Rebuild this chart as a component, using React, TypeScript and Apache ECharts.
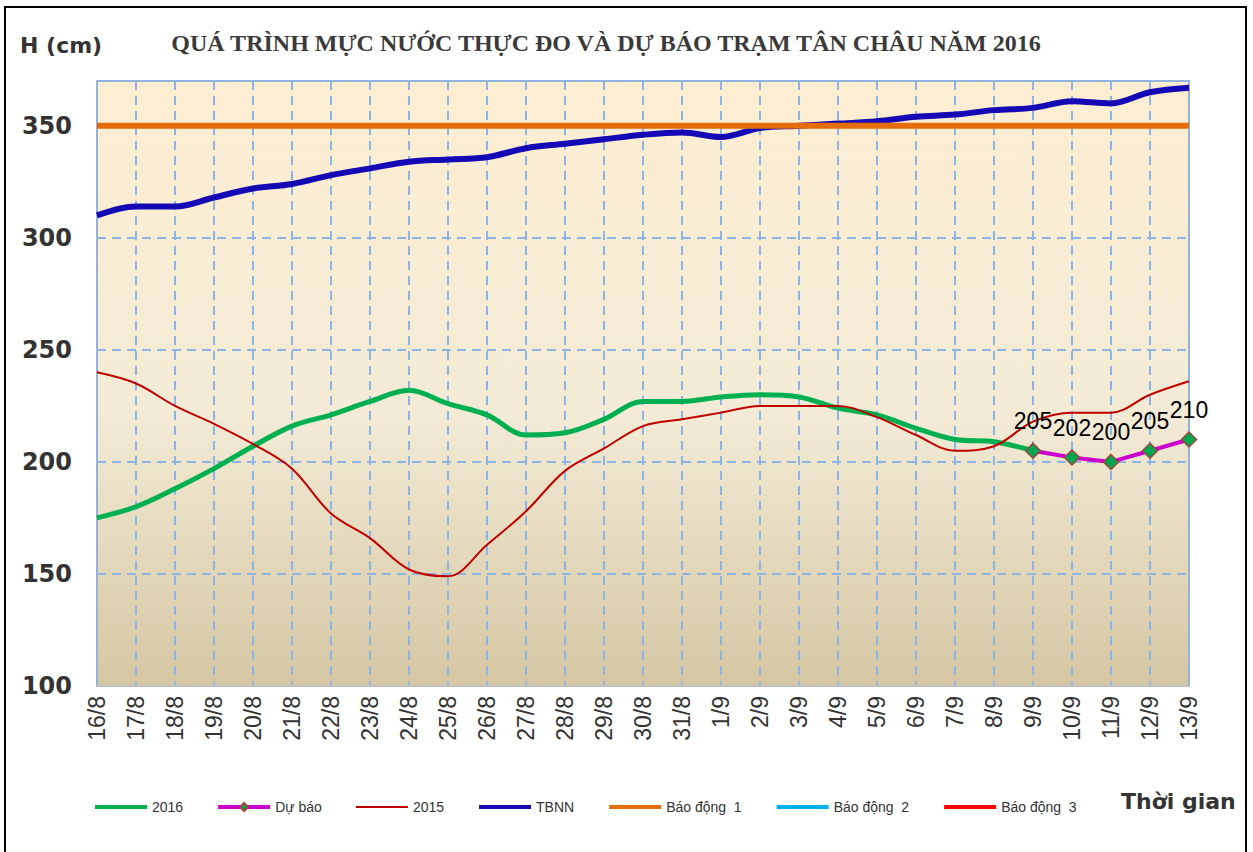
import React, { useEffect, useRef } from "react";
import * as echarts from "echarts";

const categories = [
  "16/8", "17/8", "18/8", "19/8", "20/8", "21/8", "22/8", "23/8", "24/8", "25/8",
  "26/8", "27/8", "28/8", "29/8", "30/8", "31/8", "1/9", "2/9", "3/9", "4/9",
  "5/9", "6/9", "7/9", "8/9", "9/9", "10/9", "11/9", "12/9", "13/9",
];

const values2016 = [
  175, 180, 188, 197, 207, 216, 221, 227, 232, 226,
  221, 212, 213, 219, 227, 227, 229, 230, 229, 224,
  221, 215, 210, 209, 205,
];

const forecast = [
  null, null, null, null, null, null, null, null, null, null,
  null, null, null, null, null, null, null, null, null, null,
  null, null, null, null, 205, 202, 200, 205, 210,
];

const values2015 = [
  240, 235, 225, 217, 208, 197, 177, 166, 152, 149,
  163, 178, 196, 206, 216, 219, 222, 225, 225, 225,
  220, 212, 205, 207, 218, 222, 222, 230, 236,
];

const tbnn = [
  310, 314, 314, 318, 322, 324, 328, 331, 334, 335,
  336, 340, 342, 344, 346, 347, 345, 349, 350, 351,
  352, 354, 355, 357, 358, 361, 360, 365, 367,
];

const alarm1 = categories.map(() => 350);
const alarm2: number[] = [];
const alarm3: number[] = [];

const yTicks = [100, 150, 200, 250, 300, 350];

export default function App() {
  const ref = useRef<HTMLDivElement>(null);
  useEffect(() => {
    if (!ref.current) return;
    const chart = echarts.init(ref.current, null, { renderer: "svg" });
    const gridLine = { color: "#8DB4E2", width: 2, type: [9, 6] as any };
    const lineOnly = (name: string, width: number) => ({
      name,
      itemStyle: { opacity: 0 },
      lineStyle: { width },
    });
    chart.setOption({
      animation: false,
      backgroundColor: "#ffffff",
      grid: {
        left: 97,
        top: 81,
        right: 64,
        bottom: 166,
        show: true,
        borderWidth: 0,
        backgroundColor: new echarts.graphic.LinearGradient(0, 0, 0, 1, [
          { offset: 0, color: "#FDEED2" },
          { offset: 0.55, color: "#F3EBD6" },
          { offset: 1, color: "#D5C7A3" },
        ]),
      },
      legend: {
        left: 88,
        top: 795,
        itemWidth: 52,
        itemHeight: 10,
        itemGap: 33,
        textStyle: { fontFamily: "Liberation Sans", fontSize: 14, color: "#333" },
        data: [
          lineOnly("2016", 4),
          { name: "Dự báo", lineStyle: { width: 4 } },
          lineOnly("2015", 2),
          lineOnly("TBNN", 4),
          lineOnly("Báo động  1", 4),
          lineOnly("Báo động  2", 4),
          lineOnly("Báo động  3", 4),
        ],
      },
      xAxis: {
        type: "category",
        data: categories,
        boundaryGap: false,
        axisTick: { show: false },
        axisLine: { show: true, lineStyle: { color: "#BFBFBF", width: 2 } },
        splitLine: { show: true, lineStyle: gridLine },
        axisLabel: {
          interval: 0,
          rotate: 90,
          margin: 10,
          fontFamily: "Liberation Sans",
          fontSize: 23,
          color: "#333",
        },
      },
      yAxis: {
        type: "value",
        min: 100,
        max: 370,
        interval: 50,
        axisTick: { show: false },
        axisLine: { show: true, lineStyle: { color: "#95B3D7", width: 2 } },
        splitLine: { show: true, lineStyle: gridLine },
        axisLabel: {
          margin: 25,
          fontFamily: "DejaVu Sans",
          fontWeight: "bold",
          fontSize: 24,
          color: "#333",
          formatter: (v: number) => (yTicks.includes(v) ? String(v) : ""),
        },
      },
      graphic: [
        {
          type: "rect",
          shape: { x: 97, y: 81, width: 1092, height: 605 },
          style: { fill: "none", stroke: "#95B3D7", lineWidth: 2 },
          z: 0,
          silent: true,
        },
        {
          type: "rect",
          shape: { x: 5, y: 7, width: 1241, height: 860 },
          style: { fill: "none", stroke: "#000", lineWidth: 2 },
          silent: true,
        },
        {
          type: "text",
          x: 606,
          y: 43,
          scaleX: 1.0,
          style: {
            text: "QUÁ TRÌNH MỰC NƯỚC THỰC ĐO VÀ DỰ BÁO TRẠM TÂN CHÂU NĂM 2016",
            font: "bold 24px 'Liberation Serif'",
            fill: "#3a3a3a",
            textAlign: "center",
            textVerticalAlign: "middle",
          },
        },
        {
          type: "text",
          x: 20,
          y: 45,
          style: {
            text: "H (cm)",
            font: "bold 22px 'DejaVu Sans'",
            fill: "#333",
            textAlign: "left",
            textVerticalAlign: "middle",
          },
        },
        {
          type: "text",
          x: 1121,
          y: 801,
          style: {
            text: "Thời gian",
            font: "bold 22px 'DejaVu Sans'",
            fill: "#333",
            textAlign: "left",
            textVerticalAlign: "middle",
          },
        },
      ],
      series: [
        {
          name: "2016",
          type: "line",
          data: values2016,
          smooth: 0.35,
          symbol: "none",
          lineStyle: { color: "#00B050", width: 5 },
          itemStyle: { color: "#00B050" },
        },
        {
          name: "Dự báo",
          type: "line",
          data: forecast,
          symbol: "diamond",
          symbolSize: 15,
          lineStyle: { color: "#CC00CC", width: 4 },
          itemStyle: { color: "#00A650", borderColor: "#A0463C", borderWidth: 1.5 },
          label: {
            show: true,
            position: "top",
            distance: 10,
            fontFamily: "Liberation Sans",
            fontSize: 23,
            color: "#000",
          },
          z: 5,
        },
        {
          name: "2015",
          type: "line",
          data: values2015,
          smooth: 0.35,
          symbol: "none",
          lineStyle: { color: "#C00000", width: 2 },
          itemStyle: { color: "#C00000" },
        },
        {
          name: "TBNN",
          type: "line",
          data: tbnn,
          smooth: 0.35,
          symbol: "none",
          lineStyle: { color: "#1409B4", width: 6 },
          itemStyle: { color: "#1409B4" },
        },
        {
          name: "Báo động  1",
          type: "line",
          data: alarm1,
          symbol: "none",
          lineStyle: { color: "#E46C0A", width: 6 },
          itemStyle: { color: "#E46C0A" },
        },
        {
          name: "Báo động  2",
          type: "line",
          data: alarm2,
          symbol: "none",
          lineStyle: { color: "#00B0F0", width: 5 },
          itemStyle: { color: "#00B0F0" },
        },
        {
          name: "Báo động  3",
          type: "line",
          data: alarm3,
          symbol: "none",
          lineStyle: { color: "#FF0000", width: 5 },
          itemStyle: { color: "#FF0000" },
        },
      ],
    });
    return () => chart.dispose();
  }, []);
  return (
    <div
      ref={ref}
      style={{ position: "fixed", left: 0, top: 0, width: 1253, height: 852 }}
    />
  );
}
